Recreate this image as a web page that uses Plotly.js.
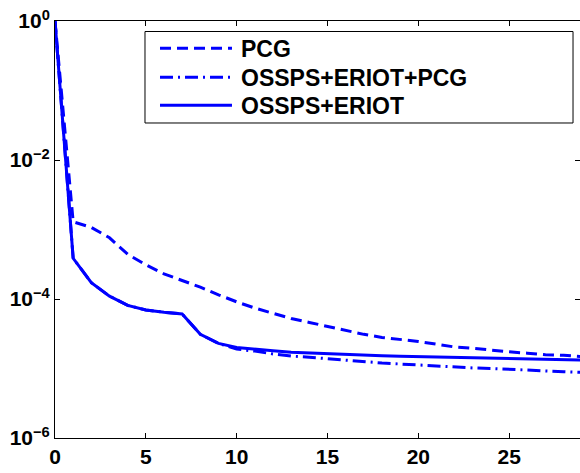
<!DOCTYPE html>
<html>
<head>
<meta charset="utf-8">
<script src="https://cdn.plot.ly/plotly-3.0.1.min.js"></script>
<style>html,body{margin:0;padding:0;background:#fff;}#chart{width:580px;height:473px;}</style>
</head>
<body>
<div id="chart"></div>
<script>
const iterations = [0,1,2,3,4,5,6,7,8,9,10,11,12,13,14,15,16,17,18,19,20,21,22,23,24,25,26,27,28,29];
const pcg = [1,1.29e-3,1.07e-3,7.6e-4,4.4e-4,3.1e-4,2.3e-4,1.86e-4,1.48e-4,1.15e-4,9.1e-5,7.4e-5,6.2e-5,5.25e-5,4.6e-5,4.0e-5,3.5e-5,3.1e-5,2.8e-5,2.63e-5,2.45e-5,2.24e-5,2.04e-5,1.95e-5,1.82e-5,1.74e-5,1.66e-5,1.58e-5,1.55e-5,1.48e-5];
const osspsEriotPcg = [1,3.85e-4,1.72e-4,1.10e-4,8.1e-5,6.95e-5,6.45e-5,6.1e-5,3.1e-5,2.3e-5,1.9e-5,1.78e-5,1.62e-5,1.51e-5,1.45e-5,1.38e-5,1.32e-5,1.26e-5,1.2e-5,1.16e-5,1.12e-5,1.10e-5,1.06e-5,1.02e-5,1.0e-5,9.8e-6,9.55e-6,9.2e-6,9.0e-6,8.8e-6];
const osspsEriot = [1,3.85e-4,1.72e-4,1.10e-4,8.1e-5,6.95e-5,6.45e-5,6.1e-5,3.1e-5,2.3e-5,2.0e-5,1.88e-5,1.8e-5,1.72e-5,1.67e-5,1.62e-5,1.58e-5,1.55e-5,1.52e-5,1.50e-5,1.48e-5,1.46e-5,1.44e-5,1.42e-5,1.40e-5,1.38e-5,1.36e-5,1.35e-5,1.33e-5,1.32e-5];
const seriesNames = ['PCG','OSSPS+ERIOT+PCG','OSSPS+ERIOT'];
const xTicks = [0,5,10,15,20,25];
const yTickVals = [1e-6,1e-4,1e-2,1];
const yTickText = ['<b>10<sup>−6</sup></b>','<b>10<sup>−4</sup></b>','<b>10<sup>−2</sup></b>','<b>10<sup>0</sup></b>'];

const blue = '#0000ff';
const dashes = ['11px,6px', '13px,5px,2px,5px', 'solid'];
const seriesData = [pcg, osspsEriotPcg, osspsEriot];
const traces = seriesData.map((ys, i) => ({
  x: iterations, y: ys, name: seriesNames[i], mode: 'lines',
  line: {color: blue, width: 3, dash: dashes[i]}, showlegend: false
}));

// custom legend (box, samples, labels) in paper coordinates
const legX0 = 0.1714, legX1 = 0.9867, legY0 = 0.7554, legY1 = 0.9748;
const rowY = [0.9345, 0.865, 0.7978];
const shapes = [{type: 'rect', xref: 'paper', yref: 'paper', x0: legX0, x1: legX1, y0: legY0, y1: legY1,
  line: {color: '#000', width: 1}, fillcolor: '#fff', layer: 'above'}];
const annotations = [];
seriesNames.forEach((nm, i) => {
  shapes.push({type: 'line', xref: 'paper', yref: 'paper', x0: 0.2, x1: 0.3371, y0: rowY[i], y1: rowY[i],
    line: {color: blue, width: 3, dash: dashes[i]}, layer: 'above'});
  annotations.push({xref: 'paper', yref: 'paper', x: 0.3505, y: rowY[i] - 0.002, xanchor: 'left', yanchor: 'middle',
    text: '<b>' + nm + '</b>', showarrow: false,
    font: {family: '"Liberation Sans", Arial, sans-serif', size: 23, color: '#000'}});
});

const fnt = {family: '"Liberation Sans", Arial, sans-serif', size: 21, color: '#000'};
const layout = {
  width: 580, height: 473,
  margin: {l: 55, r: 0, t: 21, b: 35},
  paper_bgcolor: '#fff', plot_bgcolor: '#fff',
  font: fnt,
  showlegend: false,
  shapes: shapes,
  annotations: annotations,
  xaxis: {
    range: [0, 28.9], tickvals: xTicks, ticktext: xTicks.map(v => '<b>' + v + '</b>'),
    ticks: 'inside', ticklen: 5, tickcolor: '#000', showline: true, linecolor: '#000', linewidth: 1,
    mirror: 'ticks', showgrid: false, zeroline: false, tickfont: fnt
  },
  yaxis: {
    type: 'log', range: [-6, 0], tickvals: yTickVals, ticktext: yTickText,
    ticks: 'inside', ticklen: 5, tickcolor: '#000', showline: true, linecolor: '#000', linewidth: 1,
    mirror: 'ticks', showgrid: false, zeroline: false, tickfont: fnt
  }
};
Plotly.newPlot('chart', traces, layout, {displayModeBar: false, staticPlot: true});
</script>
</body>
</html>
